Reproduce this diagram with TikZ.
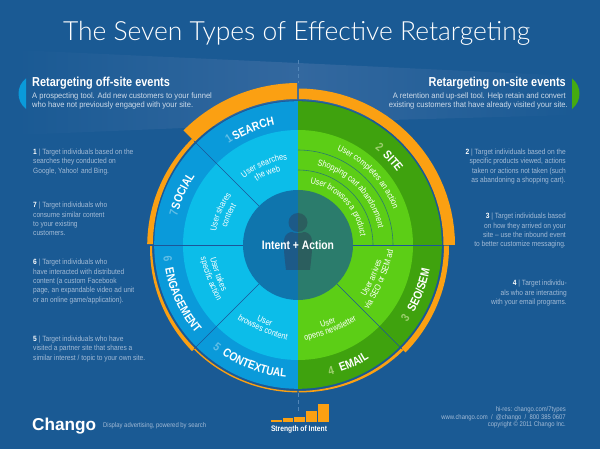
\documentclass[tikz,border=0pt]{standalone}
\usepackage{fontspec}
\usetikzlibrary{decorations.text}
\setmainfont{Liberation Sans}
\newfontfamily\condf[FakeStretch=0.84]{Liberation Sans}
\newfontfamily\bodyf[FakeStretch=0.87]{Liberation Sans}
\newfontfamily\subf[FakeStretch=0.945]{Liberation Sans}
\newfontfamily\titlef{Lato Light}
\definecolor{bgc}{HTML}{1A5A94}
\definecolor{bandc}{HTML}{33689F}
\definecolor{orangec}{HTML}{FBA012}
\definecolor{blueout}{HTML}{0A9ADA}
\definecolor{bluein}{HTML}{0CBDE9}
\definecolor{bluemid}{HTML}{0F75AD}
\definecolor{greenout}{HTML}{3FA20E}
\definecolor{greenin}{HTML}{5CCE16}
\definecolor{greenmid}{HTML}{2B7C6C}
\definecolor{personl}{HTML}{1D5A88}
\definecolor{personr}{HTML}{2B5E5E}
\definecolor{divc}{HTML}{1C5699}
\definecolor{bodyc}{HTML}{A3BBD6}
\definecolor{subc}{HTML}{CFDCEA}
\definecolor{numb}{HTML}{62BEE6}
\definecolor{numg}{HTML}{9CCF6E}
\definecolor{dashc}{HTML}{5286B8}
\tikzset{
  bodytext/.style={inner sep=0pt,text=bodyc,font=\bodyf\fontsize{7.6}{9.4}\selectfont},
  subtext/.style={inner sep=0pt,text=subc,font=\subf\fontsize{8}{9.2}\selectfont},
  headtext/.style={inner sep=0pt,text=white,font=\condf\bfseries\fontsize{13}{14}\selectfont},
  foot/.style={inner sep=0pt,text=bodyc,font=\bodyf\fontsize{6.8}{7.6}\selectfont},
  orangefill/.style={fill=orangec},
  divider/.style={draw=divc,line width=0.7pt},
  inner line/.style={draw=greenmid,line width=0.6pt},
}
\newcommand\lab{\condf\bfseries\fontsize{12}{12}\selectfont\color{white}}
\newcommand\labb{\condf\bfseries\fontsize{12}{12}\selectfont\color{numb}}
\newcommand\labg{\condf\bfseries\fontsize{12}{12}\selectfont\color{numg}}
\newcommand\inn{\condf\fontsize{8.8}{9}\selectfont\color{white}}
\newcommand\cwtext[4]{% font, radius, centre angle, text
  \pgfmathsetmacro\aA{#3+70}\pgfmathsetmacro\aB{#3-70}
  \path[decorate,decoration={text along path,text align=center,text={|#1|#4}}]
    (\aA:#2) arc[start angle=\aA,end angle=\aB,radius=#2pt];}
\newcommand\cctext[4]{%
  \pgfmathsetmacro\aA{#3-70}\pgfmathsetmacro\aB{#3+70}
  \path[decorate,decoration={text along path,text align=center,text={|#1|#4}}]
    (\aA:#2) arc[start angle=\aA,end angle=\aB,radius=#2pt];}
% counter-clockwise text on a flatter arc, so that letters whose tops face the centre do not collide
\newcommand\flattext[4]{%
  \pgfmathsetmacro\aA{#3-30}\pgfmathsetmacro\aB{#3+30}\pgfmathsetmacro\cR{#2-170}
  \path[decorate,decoration={text along path,text align=center,text={|#1|#4}}]
    ($(#3:\cR)+(\aA:170)$) arc[start angle=\aA,end angle=\aB,radius=170pt];}
\newcommand\oband[6]{% a1,a2,inner1,inner2,outer1,outer2
  \fill[orangefill] plot[domain=#1:#2,samples=30] (\x:{#5+(#6-#5)*(\x-#1)/(#2-#1)})
    -- plot[domain=#2:#1,samples=30] (\x:{#3+(#4-#3)*(\x-#1)/(#2-#1)}) -- cycle;}
\usetikzlibrary{calc}
\begin{document}
\begin{tikzpicture}[x=1pt,y=-1pt]
\useasboundingbox (0,0) rectangle (600,449);
\fill[bgc] (0,0) rectangle (600,449);
% light bands
\shade[left color=bgc,right color=bandc] (17,50) -- (298,63) -- (298,120) -- (184,128) -- (17,135) -- cycle;
\shade[left color=bandc,right color=bgc] (298,63) -- (575,76) -- (575,115) -- (390,120) -- (298,120) -- cycle;
% title
\node[inner sep=0pt,anchor=base,text=white] (title) at (296.5,41)
  {\resizebox{467pt}{!}{\titlef\fontsize{28}{30}\selectfont The Seven Types of Effective Retargeting}};
% dashes
\draw[dashc,line width=1pt,dash pattern=on 4pt off 3pt] (298,60) -- (298,83);
\draw[dashc,line width=1pt,dash pattern=on 4pt off 3pt] (298,393) -- (298,411);
% side markers
\fill[blueout] (26,78.5) .. controls (16,86) and (16,101) .. (26,109) -- cycle;
\fill[greenout!80!greenin] (572,78.5) .. controls (582,86) and (582,101) .. (572,109) -- cycle;
% headings
\node[headtext,anchor=base west] (offh) at (32,86.5) {Retargeting off-site events};
\node[subtext,anchor=base west,align=left] (offs) at (32,99) {A prospecting tool. Add new customers to your funnel};
\node[subtext,anchor=base west] (offt) at (32,108) {who have not previously engaged with your site.};
\node[headtext,anchor=base east] (onh) at (566,86.5) {Retargeting on-site events};
\node[subtext,anchor=base east] (ons) at (566,99) {A retention and up-sell tool. Help retain and convert};
\node[subtext,anchor=base east] (ont) at (568,108) {existing customers that have already visited your site.};
% left body
\node[bodytext,anchor=north west,align=left] (t1) at (33,148.5) {\textcolor{white}{\textbf{1}} | Target individuals based on the\\searches they conducted on\\Google, Yahoo! and Bing.};
\node[bodytext,anchor=north west,align=left] (t7) at (33,202) {\textcolor{white}{\textbf{7}} | Target individuals who\\consume similar content\\to your existing\\customers.};
\node[bodytext,anchor=north west,align=left] (t6) at (33,259) {\textcolor{white}{\textbf{6}} | Target individuals who\\have interacted with distributed\\content (a custom Facebook\\page, an expandable video ad unit\\or an online game/application).};
\node[bodytext,anchor=north west,align=left] (t5) at (33,335.5) {\textcolor{white}{\textbf{5}} | Target individuals who have\\visited a partner site that shares a\\similar interest / topic to your own site.};
% right body
\node[bodytext,anchor=north east,align=right] (t2) at (566,148.5) {\textcolor{white}{\textbf{2}} | Target individuals based on the\\specific products viewed, actions\\taken or actions not taken (such\\as abandoning a shopping cart).};
\node[bodytext,anchor=north east,align=right] (t3) at (566,213) {\textcolor{white}{\textbf{3}} | Target individuals based\\on how they arrived on your\\site – use the inbound event\\to better customize messaging.};
\node[bodytext,anchor=north east,align=right] (t4) at (567,280) {\textcolor{white}{\textbf{4}} | Target individu-\\als who are interacting\\with your email programs.};
% footer
\node[inner sep=0pt,anchor=base west,text=white] (logo) at (32,430) {\resizebox{64pt}{!}{\bfseries\fontsize{18}{18}\selectfont Chango}};
\node[foot,anchor=base west] (tag) at (103,427.5) {Display advertising, powered by search};
\node[foot,anchor=north east,align=right] (fr) at (566,406.5) {hi-res: chango.com/7types\\www.chango.com\ \ /\ \ @chango\ \ /\ \ 800 385 0607\\copyright © 2011 Chango Inc.};
% strength bars
\fill[orangec] (270.7,420.3) rectangle (281.8,421.8);
\fill[orangec] (282.8,418.3) rectangle (293.3,421.8);
\fill[orangec] (294.2,416.6) rectangle (305,421.8);
\fill[orangec] (306,411) rectangle (316.8,421.8);
\fill[orangec] (317.8,404) rectangle (329,421.8);
\node[inner sep=0pt,anchor=base,text=white] (strength) at (299,431) {\condf\bfseries\fontsize{8}{9}\selectfont Strength of Intent};
% wheel
\begin{scope}[shift={(298,245)},x=1pt,y=1pt]
  \oband{90.3}{135}{146}{146}{162}{162}
  \oband{135}{179.7}{146}{145}{150}{150.8}
  \oband{180.3}{225}{146}{146}{148}{150}
  \oband{225}{269.8}{146}{146}{147.4}{147.4}
  \oband{270.2}{315}{146}{146}{147.4}{149}
  \oband{315}{359.8}{146}{146}{152}{151}
  \oband{0}{89.7}{145.5}{146}{157}{156.5}
  \fill[divc!80!bgc] (0,0) circle (144.6);
  \fill[blueout] (90:143.8) arc[start angle=90,end angle=270,radius=143.8pt] -- cycle;
  \fill[greenout] (-90:143.8) arc[start angle=-90,end angle=90,radius=143.8pt] -- cycle;
  \fill[bluein] (90:115) arc[start angle=90,end angle=270,radius=115pt] -- cycle;
  \fill[greenin] (-90:115) arc[start angle=-90,end angle=90,radius=115pt] -- cycle;
  \draw[inner line] (0:95) arc[start angle=0,end angle=90,radius=95pt];
  \draw[inner line] (0:75) arc[start angle=0,end angle=90,radius=75pt];
  \draw[divider] (135:55) -- (135:147);
  \draw[divider] (180:55) -- (180:155);
  \draw[divider] (225:55) -- (225:147);
  \draw[divider] (315:55) -- (315:147);
  \draw[divider] (0:55) -- (0:146);
  \fill[bluemid] (90:55) arc[start angle=90,end angle=270,radius=55pt] -- cycle;
  \fill[greenmid] (-90:55) arc[start angle=-90,end angle=90,radius=55pt] -- cycle;
  % person
  \def\persona{(0,22.5) circle (9.5)}
  \def\personb{(-12,-25) .. controls (-13.5,-12) and (-15,0) .. (-13.5,7) .. controls (-12.5,11.5) and (-8,13) .. (-6,13) .. controls (-3,11.5) and (3,11.5) .. (6,13) .. controls (8,13) and (12.5,11.5) .. (13.5,7) .. controls (15,0) and (13.5,-12) .. (12,-25) -- cycle}
  \begin{scope}
    \clip (-20,-30) rectangle (0,40);
    \fill[personl] \persona;
    \fill[personl] \personb;
  \end{scope}
  \begin{scope}
    \clip (0,-30) rectangle (20,40);
    \fill[personr] \persona;
    \fill[personr] \personb;
  \end{scope}
  \node[inner sep=0pt,text=white] (core) at (0,0) {\condf\bfseries\fontsize{12.3}{14}\selectfont Intent + Action};
  % outer labels
  \cwtext{\lab}{122}{111}{SEARCH}
  \cwtext{\labb}{123}{123}{1}
  \cwtext{\lab}{124}{155}{SOCIAL}
  \cwtext{\labb}{124}{165.5}{7}
  \cctext{\lab}{135}{205.5}{ENGAGEMENT}
  \cctext{\labb}{135}{186}{6}
  \cctext{\lab}{133}{250}{CONTEXTUAL}
  \cctext{\labb}{134}{231.5}{5}
  \cctext{\lab}{134}{295.4}{EMAIL}
  \cctext{\labg}{134}{284.7}{4}
  \cctext{\lab}{134}{339.6}{SEO/SEM}
  \cctext{\labg}{134}{325.7}{3}
  \cwtext{\lab}{123}{41.5}{SITE}
  \cwtext{\labg}{123}{50}{2}
  % inner labels
  \cwtext{\inn}{86}{113}{User searches}
  \cwtext{\inn}{76}{113}{the web}
  \cwtext{\inn}{83}{157}{User shares}
  \cwtext{\inn}{73}{157}{content}
  \flattext{\inn}{88}{200}{User takes}
  \flattext{\inn}{97}{201}{specific action}
  \flattext{\inn}{86}{246.5}{User}
  \flattext{\inn}{94}{247}{browses content}
  \flattext{\inn}{86}{291}{User}
  \flattext{\inn}{94}{291}{opens newsletter}
  \flattext{\inn}{84}{336}{User arrives}
  \flattext{\inn}{93}{337}{via SEO or SEM ad}
  \cwtext{\inn}{102}{44}{User completes an action}
  \cwtext{\inn}{82}{44}{Shopping cart abandonment}
  \cwtext{\inn}{63}{43.5}{User browses a product}
\end{scope}
\end{tikzpicture}
\end{document}
